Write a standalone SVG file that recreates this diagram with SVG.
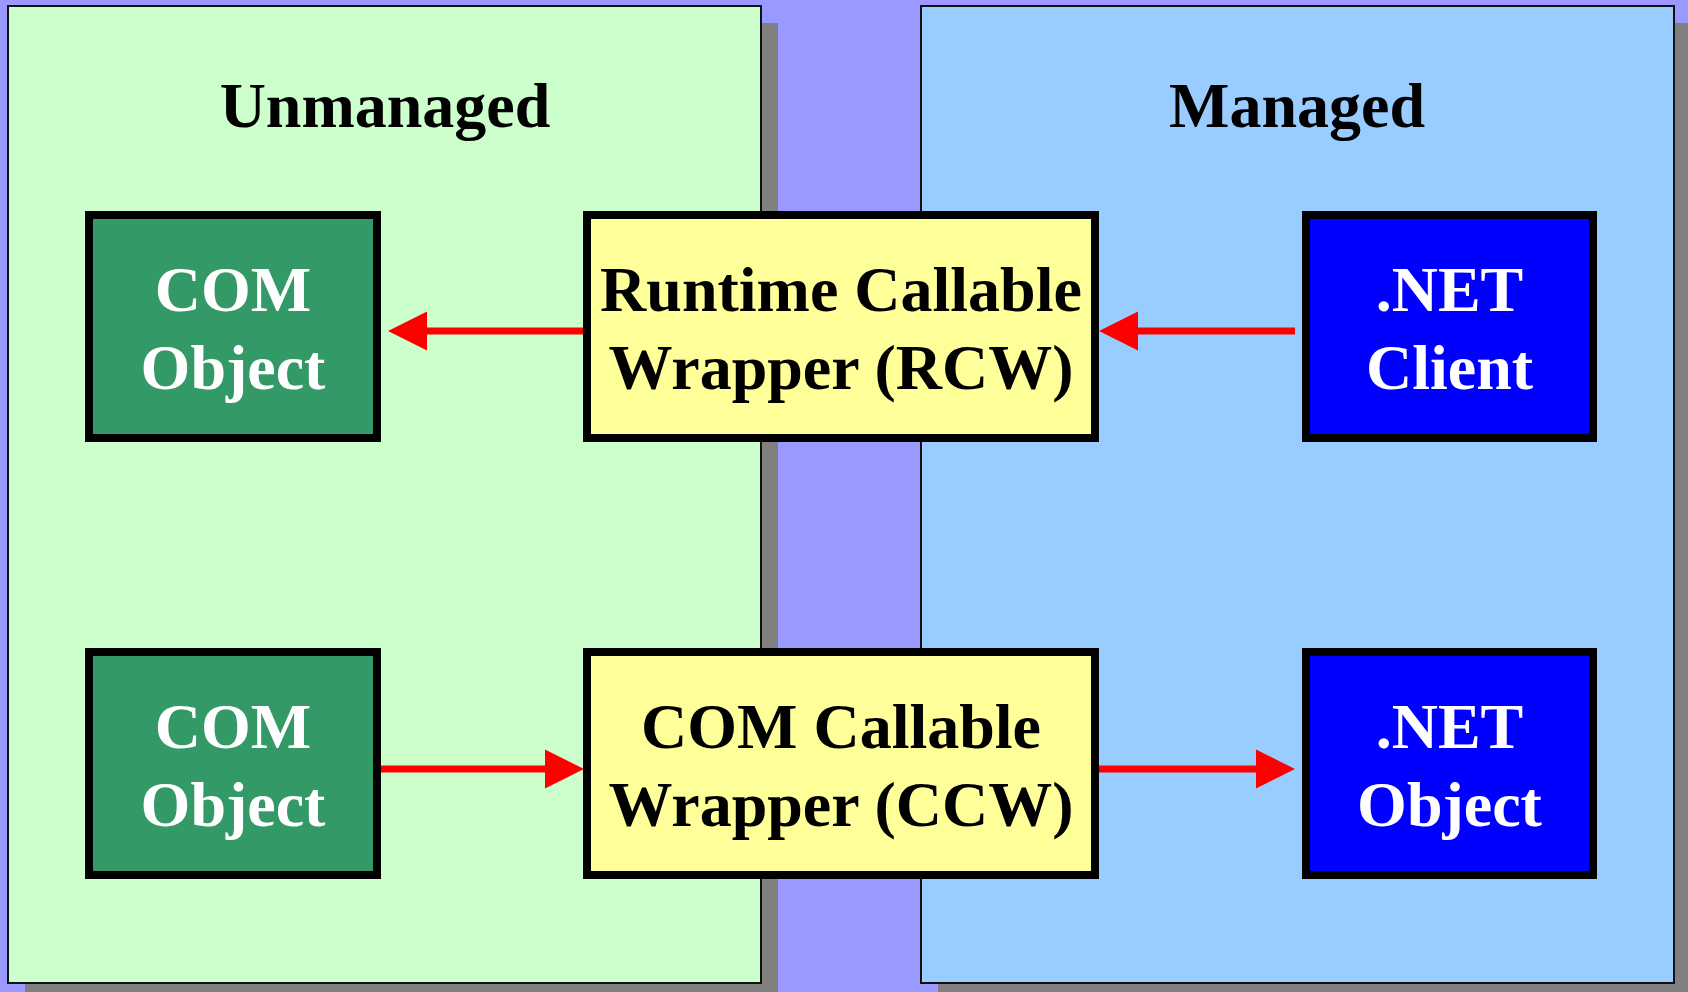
<svg xmlns="http://www.w3.org/2000/svg" width="1688" height="992" viewBox="0 0 1688 992">
<style>
.shadow{fill:#808080}
.panel{stroke:#111;stroke-width:2}
.title{font-family:"Liberation Serif","Times New Roman",serif;font-weight:bold;font-size:64px;text-anchor:middle;fill:#000}
.box{stroke:#000;stroke-width:8}
.lbl{font-family:"Liberation Serif","Times New Roman",serif;font-weight:bold;font-size:64px;text-anchor:middle}
.conn{stroke:#FF0000;stroke-width:7;fill:none}
</style>
<defs>
<marker id="ah" markerUnits="userSpaceOnUse" markerWidth="40" markerHeight="40" viewBox="0 0 40 40" refX="0" refY="20" orient="auto">
<path d="M0,0.5 L39,20 L0,39.5 z" fill="#FF0000"/>
</marker>
</defs>
<rect x="0" y="0" width="1688" height="992" fill="#9999FF"/>
<g id="panel-unmanaged">
<rect class="shadow" x="25" y="23" width="753" height="977"/>
<rect class="panel" x="8" y="6" width="753" height="977" fill="#CCFFCC"/>
<text class="title" x="385" y="127">Unmanaged</text>
</g>
<g id="panel-managed">
<rect class="shadow" x="938" y="23" width="753" height="977"/>
<rect class="panel" x="921" y="6" width="753" height="977" fill="#99CCFF"/>
<text class="title" x="1297" y="127">Managed</text>
</g>
<g id="connectors">
<line class="conn" x1="585" y1="331" x2="427" y2="331" marker-end="url(#ah)"/>
<line class="conn" x1="1295" y1="331" x2="1138" y2="331" marker-end="url(#ah)"/>
<line class="conn" x1="381" y1="769" x2="545" y2="769" marker-end="url(#ah)"/>
<line class="conn" x1="1098" y1="769" x2="1256" y2="769" marker-end="url(#ah)"/>
</g>
<g id="com-object-1">
<rect class="box" x="89" y="215" width="288" height="223" fill="#339966"/>
<text class="lbl" fill="#FFFFFF"><tspan x="233" y="311">COM</tspan><tspan x="233" y="389">Object</tspan></text>
</g>
<g id="rcw">
<rect class="box" x="587" y="215" width="508" height="223" fill="#FFFF99"/>
<text class="lbl" fill="#000000"><tspan x="841" y="311">Runtime Callable</tspan><tspan x="841" y="389">Wrapper (RCW)</tspan></text>
</g>
<g id="net-client">
<rect class="box" x="1306" y="215" width="287" height="223" fill="#0000FF"/>
<text class="lbl" fill="#FFFFFF"><tspan x="1449.5" y="311">.NET</tspan><tspan x="1449.5" y="389">Client</tspan></text>
</g>
<g id="com-object-2">
<rect class="box" x="89" y="652" width="288" height="223" fill="#339966"/>
<text class="lbl" fill="#FFFFFF"><tspan x="233" y="748">COM</tspan><tspan x="233" y="826">Object</tspan></text>
</g>
<g id="ccw">
<rect class="box" x="587" y="652" width="508" height="223" fill="#FFFF99"/>
<text class="lbl" fill="#000000"><tspan x="841" y="748">COM Callable</tspan><tspan x="841" y="826">Wrapper (CCW)</tspan></text>
</g>
<g id="net-object">
<rect class="box" x="1306" y="652" width="287" height="223" fill="#0000FF"/>
<text class="lbl" fill="#FFFFFF"><tspan x="1449.5" y="748">.NET</tspan><tspan x="1449.5" y="826">Object</tspan></text>
</g>
</svg>
